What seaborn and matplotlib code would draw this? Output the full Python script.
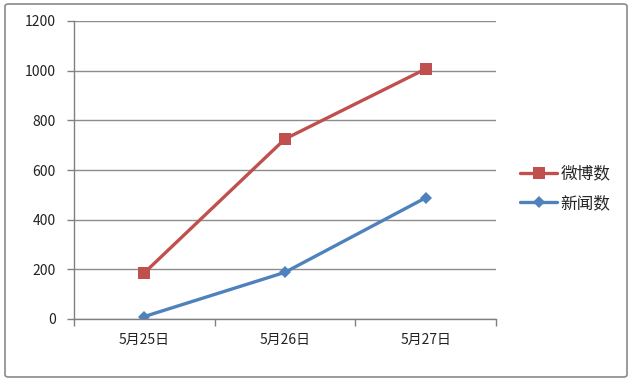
import matplotlib
matplotlib.use("Agg")
import matplotlib.pyplot as plt
import seaborn as sns
import pandas as pd
from matplotlib.patches import FancyBboxPatch
from matplotlib.ticker import FixedLocator
from matplotlib.lines import Line2D

categories = ["5月25日", "5月26日", "5月27日"]
weibo = [186, 725, 1007]
news = [10, 188, 488]
series_names = ["微博数", "新闻数"]
y_ticks = [0, 200, 400, 600, 800, 1000, 1200]

sns.set_theme(style="white")
plt.rcParams['font.family'] = ['Noto Sans CJK SC', 'DejaVu Sans']

df = pd.DataFrame({
    "date": list(range(len(categories))) * 2,
    "value": weibo + news,
    "series": [series_names[0]] * 3 + [series_names[1]] * 3,
})

fig = plt.figure(figsize=(6.33, 3.81), dpi=100)
fig.patch.set_facecolor("white")
ax = fig.add_axes([74/633, 1 - 319/381, (496-74)/633, (319-21)/381])

palette = {"微博数": "#C0504D", "新闻数": "#4F81BD"}
sns.lineplot(data=df, x="date", y="value", hue="series", style="series",
             markers={"微博数": "s", "新闻数": "D"}, dashes=False,
             palette=palette, linewidth=2.4, markersize=8, markeredgewidth=0,
             ax=ax, legend=False)
for line in ax.lines:
    if line.get_marker() == "D":
        line.set_markersize(6.5)

ax.set_xlim(-0.5, 2.5)
ax.set_ylim(0, 1200)
ax.set_yticks(y_ticks)
ax.set_xticks(range(len(categories)))
ax.set_xticklabels(categories)
ax.xaxis.set_minor_locator(FixedLocator([-0.5, 0.5, 1.5, 2.5]))
ax.tick_params(axis="x", which="major", length=0, pad=10, labelsize=10, colors="#222222")
ax.tick_params(axis="x", which="minor", length=5, width=1, color="#808080", direction="out", bottom=True)
ax.tick_params(axis="y", which="major", length=5, width=1, color="#808080", direction="out", left=True, pad=8, labelsize=10, labelcolor="#222222")
ax.set_xlabel("")
ax.set_ylabel("")
ax.grid(axis="y", color="#8c8c8c", linewidth=1)
ax.set_axisbelow(True)
for s in ["top", "right"]:
    ax.spines[s].set_visible(False)
for s in ["left", "bottom"]:
    ax.spines[s].set_color("#808080")
    ax.spines[s].set_linewidth(1)

handles = [
    Line2D([], [], color=palette["微博数"], marker="s", markersize=8, linewidth=2.4, markeredgewidth=0),
    Line2D([], [], color=palette["新闻数"], marker="D", markersize=6.5, linewidth=2.4, markeredgewidth=0),
]
fig.legend(handles, series_names, loc="center left", bbox_to_anchor=(512/633, 1 - 189/381),
           frameon=False, fontsize=12, handlelength=2.2, handletextpad=0.2, labelspacing=0.75,
           borderpad=0)

border = FancyBboxPatch((5/633, 4/381), 622/633, 373/381, boxstyle="round,pad=0,rounding_size=0.006",
                        transform=fig.transFigure, fill=False, edgecolor="#8a8a8a", linewidth=1.2)
fig.patches.append(border)

fig.savefig("out.png", dpi=100)
